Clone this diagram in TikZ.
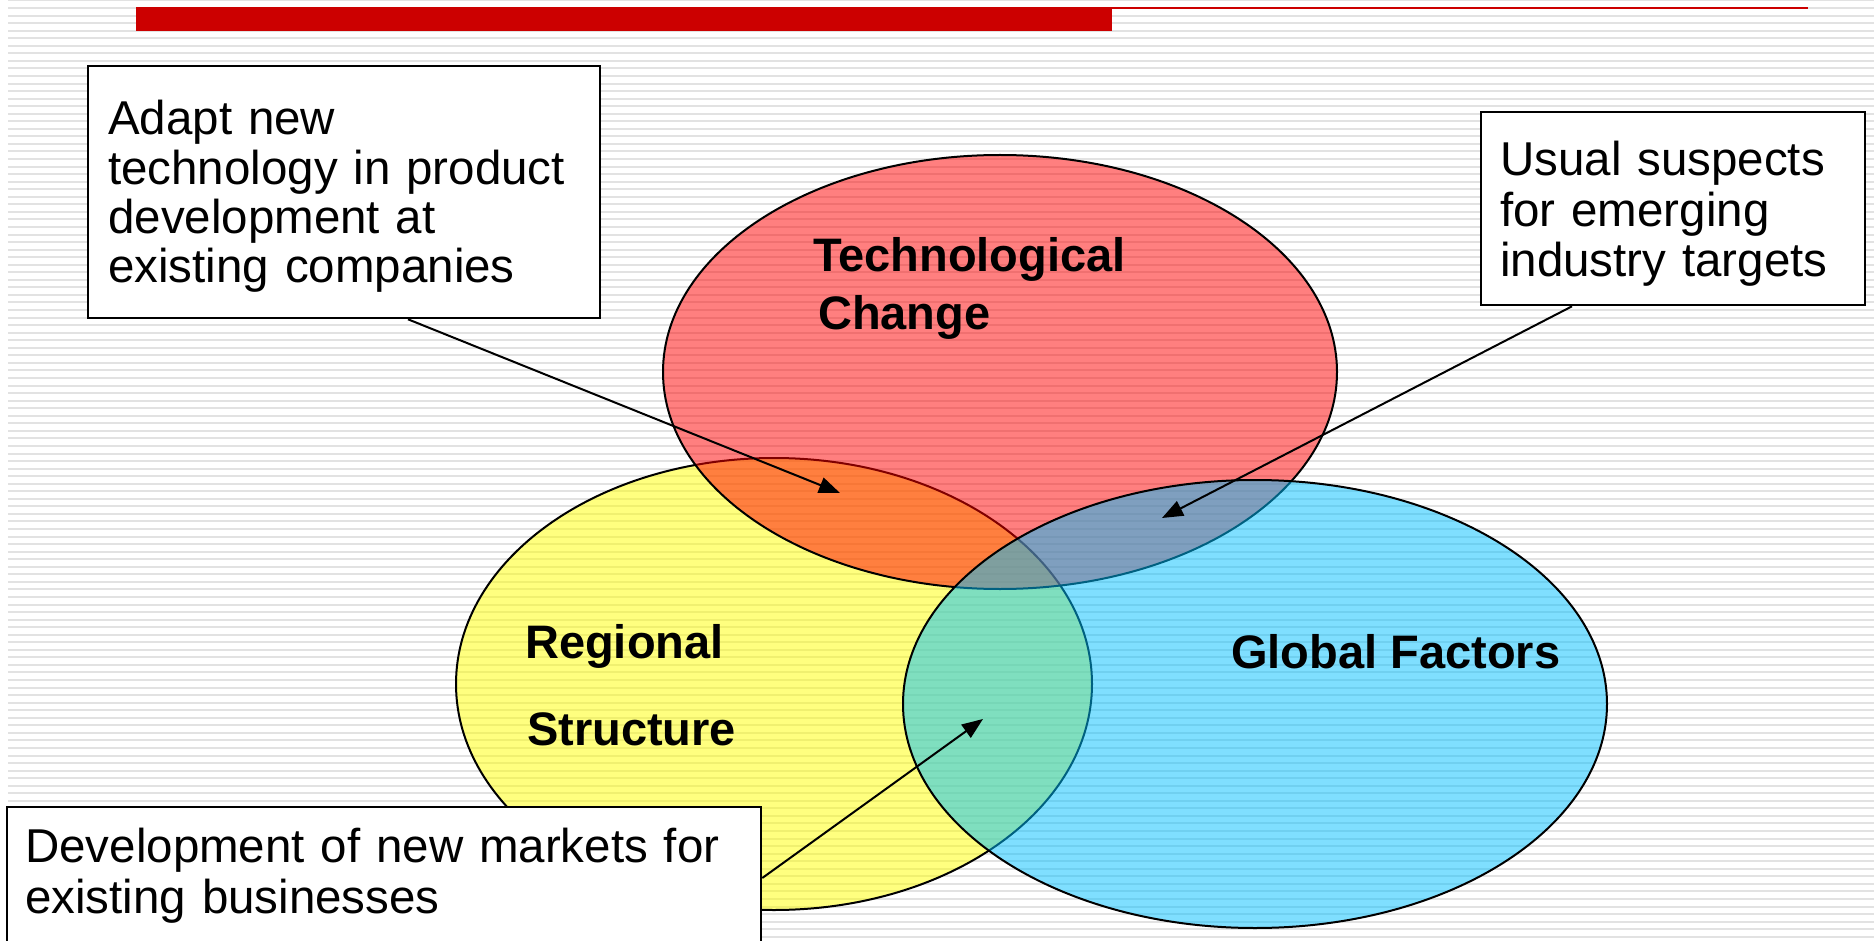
\documentclass[tikz,border=0pt]{standalone}
\usepackage{fontspec}
\setmainfont{Liberation Sans}
\newfontfamily\boxfont{Liberation Sans}
\newfontfamily\labfont{Liberation Sans}
\usetikzlibrary{arrows.meta}
\definecolor{barred}{RGB}{204,0,0}
\definecolor{bgline}{RGB}{226,226,226}
\definecolor{ellred}{RGB}{255,0,0}
\definecolor{ellyel}{RGB}{255,255,0}
\definecolor{ellblue}{RGB}{0,192,255}
\begin{document}
\begin{tikzpicture}[x=1pt,y=-1pt,
  bgl/.style={draw=bgline,line width=2pt},
  venn/.style={draw=black,line width=2pt,fill opacity=0.5},
  boxstyle/.style={draw=black,line width=2.3pt,fill=white,anchor=north west,inner sep=0pt},
  boxtext/.style={anchor=base west,inner sep=0pt,text width=1000pt,align=left},
  lab/.style={anchor=base west,inner sep=0pt,font=\labfont\bfseries\fontsize{47}{56}\selectfont},
  arr/.style={line width=2pt,-{Triangle[length=21pt,width=16pt]}}]
\useasboundingbox (0,0) rectangle (1874,941);
\clip (0,0) rectangle (1874,941);
\fill[white] (0,0) rectangle (1874,941);
% background stripes
\foreach \i in {0,...,124}
  \draw[bgl] (8,{0.5+7.55*\i}) -- (1874,{0.5+7.55*\i});
% title bar
\fill[barred] (136,7) rectangle (1112,31);
\fill[barred] (1112,7) rectangle (1808,9.5);
% ellipses
\draw[venn,fill=ellyel] (774,684) ellipse [x radius=318pt, y radius=226pt];
\draw[venn,fill=ellred] (1000,372) ellipse [x radius=337pt, y radius=217pt];
\draw[venn,fill=ellblue] (1255,704) ellipse [x radius=352pt, y radius=224pt];
% labels
\node[lab] (tc1) at (813,272) {Technological};
\node[lab] (tc2) at (818,330) {Change};
\node[lab] (rs1) at (525,658) {Regional};
\node[lab] (rs2) at (527,745) {Structure};
\node[lab] (gf) at (1231,668) {Global Factors};
% tips
\coordinate (t1) at (840,493);
\coordinate (t2) at (1162,518);
\coordinate (t3) at (983,719);
% boxes
\node[boxstyle,minimum width=512pt,minimum height=252pt] (b1) at (87,65) {};
\node[boxstyle,minimum width=384pt,minimum height=193pt] (b2) at (1480,111) {};
\node[boxstyle,minimum width=754pt,minimum height=200pt] (b3) at (6,806) {};
% connectors
\draw[arr] ([xshift=321pt]b1.south west) -- (t1);
\draw[arr] ([xshift=92pt]b2.south west) -- (t2);
\draw[arr] ([yshift=-72pt]b3.north east) -- (t3);
% box texts
\node[boxtext,font=\boxfont\fontsize{47.5}{49.3}\selectfont] (b1t) at (108,135) {Adapt new\\technology in product\\development at\\existing companies};
\node[boxtext,font=\boxfont\fontsize{47.5}{50.5}\selectfont] (b2t) at (1500,176) {Usual suspects\\for emerging\\industry targets};
\node[boxtext,font=\boxfont\fontsize{47.5}{51}\selectfont] (b3t) at (25,862) {Development of new markets for\\existing businesses};
\end{tikzpicture}
\end{document}
